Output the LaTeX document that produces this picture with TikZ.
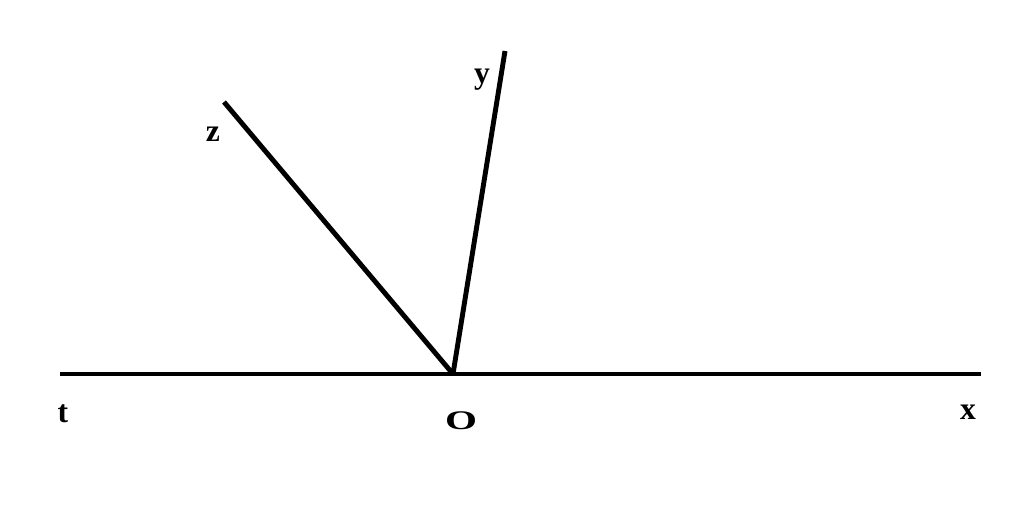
\documentclass[tikz,border=0pt]{standalone}
\usepackage{fontspec}
\setmainfont{Liberation Serif}
\begin{document}
\begin{tikzpicture}[x=0.02cm, y=-0.02cm, line width=2.8pt,
	lbl/.style={inner sep=0pt, font=\fontsize{18}{20}\selectfont\bfseries}]
	\useasboundingbox (0,0) rectangle (1024,514);
	\coordinate (O) at (453,374);
	\coordinate (tEnd) at (60,374);
	\coordinate (xEnd) at (981,374);
	\coordinate (yEnd) at (505,51);
	\coordinate (zEnd) at (224,102);
	\draw (tEnd) -- (xEnd);
	\draw (O) -- (yEnd);
	\draw (O) -- (zEnd);

	\node[lbl] (tLbl) at (63,414) {t};
	\node[lbl] (oLbl) at (461,421) {\scalebox{1.3}[0.85]{O}};
	\node[lbl] (xLbl) at (968,412) {x};
	\node[lbl] (yLbl) at (482,80) {y};
	\node[lbl] (zLbl) at (213,134) {z};
\end{tikzpicture}
\end{document}
